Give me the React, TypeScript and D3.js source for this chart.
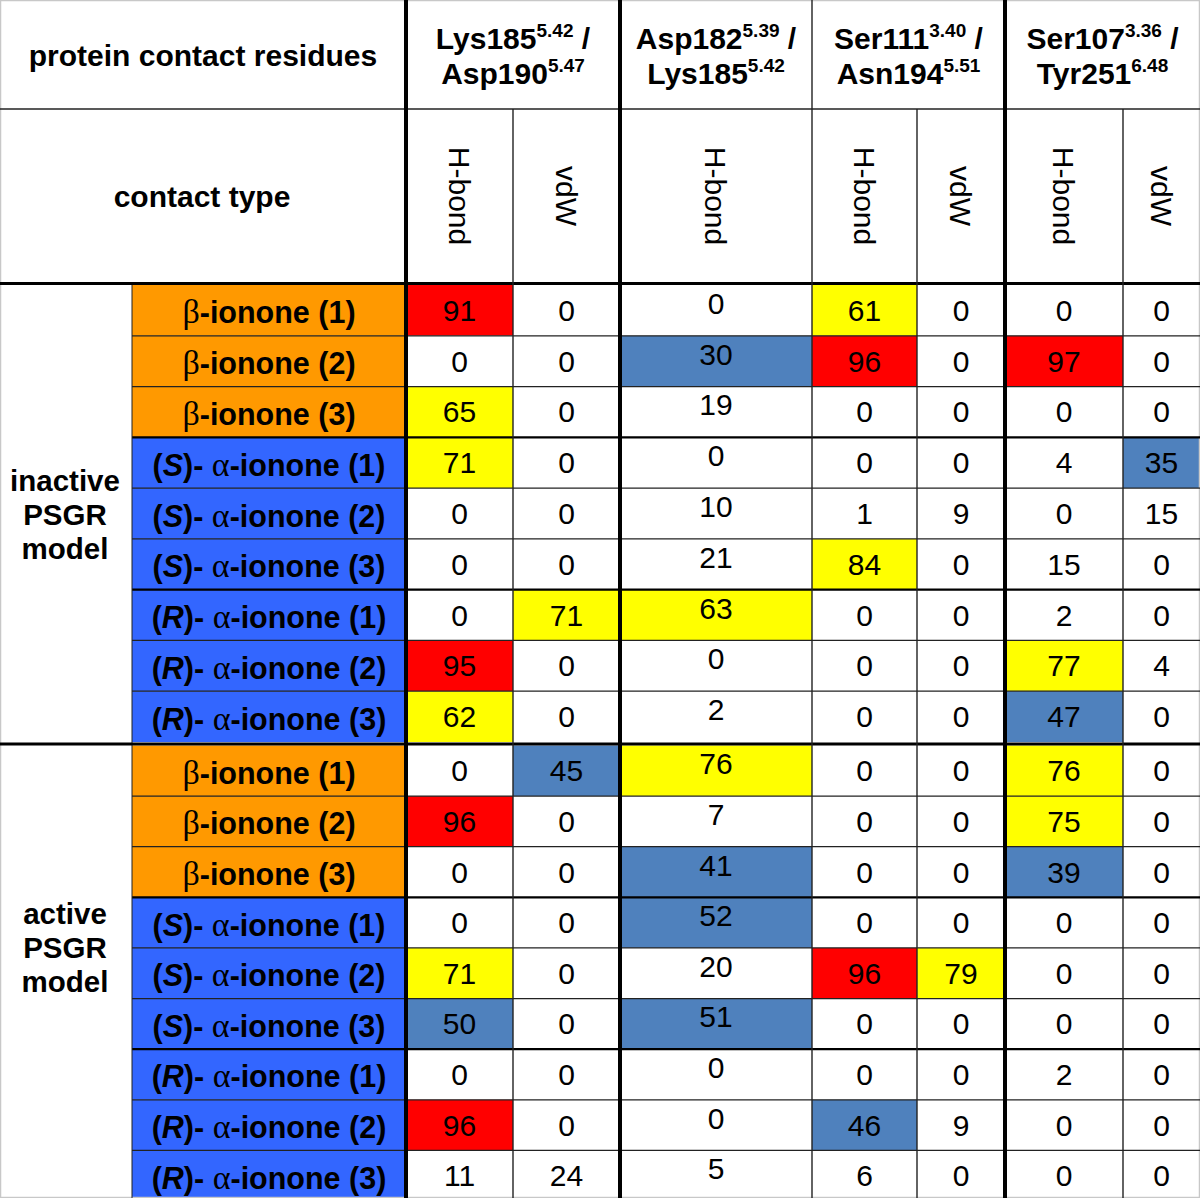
import React from "react";
import * as d3 from "d3";

// ---------- data ----------
const residueA = ["Lys185", "Asp182", "Ser111", "Ser107"];
const residueASup = ["5.42", "5.39", "3.40", "3.36"];
const residueB = ["Asp190", "Lys185", "Asn194", "Tyr251"];
const residueBSup = ["5.47", "5.42", "5.51", "6.48"];
const columnPair = [0, 0, 1, 2, 2, 3, 3];
const columnType = ["H-bond", "vdW", "H-bond", "H-bond", "vdW", "H-bond", "vdW"];
const modelStates = ["inactive", "active"];
const ligands = [
  "β-ionone (1)", "β-ionone (2)", "β-ionone (3)",
  "(S)- α-ionone (1)", "(S)- α-ionone (2)", "(S)- α-ionone (3)",
  "(R)- α-ionone (1)", "(R)- α-ionone (2)", "(R)- α-ionone (3)",
];
const inactiveValues = [
  [91, 0, 0, 61, 0, 0, 0],
  [0, 0, 30, 96, 0, 97, 0],
  [65, 0, 19, 0, 0, 0, 0],
  [71, 0, 0, 0, 0, 4, 35],
  [0, 0, 10, 1, 9, 0, 15],
  [0, 0, 21, 84, 0, 15, 0],
  [0, 71, 63, 0, 0, 2, 0],
  [95, 0, 0, 0, 0, 77, 4],
  [62, 0, 2, 0, 0, 47, 0],
];
const activeValues = [
  [0, 45, 76, 0, 0, 76, 0],
  [96, 0, 7, 0, 0, 75, 0],
  [0, 0, 41, 0, 0, 39, 0],
  [0, 0, 52, 0, 0, 0, 0],
  [71, 0, 20, 96, 79, 0, 0],
  [50, 0, 51, 0, 0, 0, 0],
  [0, 0, 0, 0, 0, 2, 0],
  [96, 0, 0, 46, 9, 0, 0],
  [11, 24, 5, 6, 0, 0, 0],
];
const thresholds = [30, 60, 90];
const thresholdColors = ["#FFFFFF", "#4F81BD", "#FFFF00", "#FF0000"];

// ---------- layout ----------
const W = 1200;
const H = 1198;
const FONT = "'Liberation Sans', Arial, Helvetica, sans-serif";
const SYM = "'Liberation Serif', 'Times New Roman', serif";
const FS = 30;
const colEdges = [406, 513, 620, 812, 917, 1005, 1123, 1200];
const labelX0 = 132;
const header1Bottom = 109;
const headerBottom = 283.5;
const groupRanges: [number, number][] = [
  [285, 742],
  [745.5, 1201],
];
const groupLabelCenters = [514, 947];

const color = d3.scaleThreshold<number, string>().domain(thresholds).range(thresholdColors);
const valuesByGroup = [inactiveValues, activeValues];

function LigandLabel({ text, x, y }: { text: string; x: number; y: number }) {
  const m = text.match(/^\((S|R)\)- α-ionone (\(\d\))$/);
  if (m) {
    return (
      <text x={x} y={y} textAnchor="middle" fontFamily={FONT} fontWeight="bold" fontSize={30.5}>
        <tspan>(</tspan>
        <tspan fontStyle="italic">{m[1]}</tspan>
        <tspan>)- </tspan>
        <tspan fontFamily={SYM} fontWeight="normal" fontSize={34}>α</tspan>
        <tspan>{"-ionone " + m[2]}</tspan>
      </text>
    );
  }
  const rest = text.slice(1);
  return (
    <text x={x} y={y} textAnchor="middle" fontFamily={FONT} fontWeight="bold" fontSize={30.5}>
      <tspan fontFamily={SYM} fontWeight="normal" fontSize={34}>{text[0]}</tspan>
      <tspan>{rest}</tspan>
    </text>
  );
}

export default function App() {
  const xLeft = (c: number) => colEdges[c];
  const xRight = (c: number) => colEdges[c + 1];
  const xMid = (c: number) => (colEdges[c] + colEdges[c + 1]) / 2;
  const yScales = groupRanges.map((r) =>
    d3.scaleBand<number>().domain(d3.range(ligands.length)).range(r).paddingInner(0)
  );

  const pairStart = residueA.map((_, p) => columnPair.indexOf(p));
  const pairEnd = residueA.map((_, p) => columnPair.lastIndexOf(p));

  const thin = "#222";
  return (
    <svg
      width={W}
      height={H}
      viewBox={`0 0 ${W} ${H}`}
      style={{ position: "absolute", left: 0, top: 0, background: "#fff" }}
    >
      <rect x={0} y={0} width={W} height={H} fill="#fff" />

      {/* cells */}
      {valuesByGroup.map((vals, g) =>
        vals.map((row, r) =>
          row.map((v, c) => (
            <rect
              key={`c${g}-${r}-${c}`}
              x={xLeft(c)}
              y={yScales[g](r)!}
              width={xRight(c) - xLeft(c)}
              height={yScales[g].bandwidth()}
              fill={color(v)}
            />
          ))
        )
      )}

      {/* ligand label backgrounds */}
      {groupRanges.map((_, g) =>
        ligands.map((lig, r) => (
          <rect
            key={`lb${g}-${r}`}
            x={labelX0}
            y={yScales[g](r)!}
            width={colEdges[0] - labelX0}
            height={yScales[g].bandwidth()}
            fill={lig.startsWith("β") ? "#FF9900" : "#3366FF"}
          />
        ))
      )}

      {/* outer light border */}
      <rect x={0.5} y={0.5} width={W - 1} height={H - 1} fill="none" stroke="#c8c8c8" strokeWidth={1.5} />

      {/* horizontal lines in data area */}
      {groupRanges.map((_, g) =>
        d3.range(1, ligands.length).map((r) => {
          const y = yScales[g](r)!;
          const major = r % 3 === 0;
          return (
            <line
              key={`h${g}-${r}`}
              x1={labelX0}
              x2={W}
              y1={y}
              y2={y}
              stroke={major ? "#000" : thin}
              strokeWidth={major ? 2.2 : 1.3}
            />
          );
        })
      )}
      <line x1={labelX0} x2={labelX0} y1={285} y2={H} stroke={thin} strokeWidth={1} />

      {/* header lines */}
      <line x1={0} x2={W} y1={header1Bottom} y2={header1Bottom} stroke={thin} strokeWidth={1.5} />
      <line x1={0} x2={W} y1={headerBottom} y2={headerBottom} stroke="#000" strokeWidth={3.2} />
      <line x1={0} x2={W} y1={744} y2={744} stroke="#000" strokeWidth={3.2} />

      {/* vertical lines */}
      {colEdges.slice(1, -1).map((x, i) => {
        const c = i + 1;
        const pairBoundary = columnPair[c] !== columnPair[c - 1];
        const major = pairBoundary && (c === 2 || c === 5);
        return (
          <line
            key={`v${c}`}
            x1={x}
            x2={x}
            y1={pairBoundary ? 0 : header1Bottom}
            y2={H}
            stroke={major ? "#000" : thin}
            strokeWidth={major ? 4 : 1.4}
          />
        );
      })}
      <line x1={colEdges[0]} x2={colEdges[0]} y1={0} y2={H} stroke="#000" strokeWidth={4} />

      {/* header texts */}
      <text x={203} y={66} textAnchor="middle" fontFamily={FONT} fontWeight="bold" fontSize={FS}>
        protein contact residues
      </text>
      <text x={202} y={207} textAnchor="middle" fontFamily={FONT} fontWeight="bold" fontSize={FS}>
        contact type
      </text>

      {residueA.map((a, p) => {
        const cx = (xLeft(pairStart[p]) + xRight(pairEnd[p])) / 2;
        return (
          <g key={`rp${p}`}>
            <text x={cx} y={49} textAnchor="middle" fontFamily={FONT} fontWeight="bold" fontSize={FS}>
              <tspan>{a}</tspan>
              <tspan fontSize={19} dy={-12}>{residueASup[p]}</tspan>
              <tspan dy={12}>{" /"}</tspan>
            </text>
            <text x={cx} y={84} textAnchor="middle" fontFamily={FONT} fontWeight="bold" fontSize={FS}>
              <tspan>{residueB[p]}</tspan>
              <tspan fontSize={19} dy={-12}>{residueBSup[p]}</tspan>
            </text>
          </g>
        );
      })}

      {columnType.map((t, c) => (
        <text
          key={`ct${c}`}
          transform={`translate(${xMid(c)},${196}) rotate(90)`}
          textAnchor="middle"
          dy={11}
          fontFamily={FONT}
          fontSize={FS}
        >
          {t}
        </text>
      ))}

      {/* group labels */}
      {modelStates.map((s, g) => (
        <text
          key={`gl${g}`}
          x={65}
          y={groupLabelCenters[g]}
          textAnchor="middle"
          fontFamily={FONT}
          fontWeight="bold"
          fontSize={29.5}
        >
          <tspan x={65} dy={-34 + 10.5}>{s}</tspan>
          <tspan x={65} dy={34}>PSGR</tspan>
          <tspan x={65} dy={34}>model</tspan>
        </text>
      ))}

      {/* ligand labels */}
      {groupRanges.map((_, g) =>
        ligands.map((lig, r) => (
          <LigandLabel
            key={`ll${g}-${r}`}
            text={lig}
            x={(labelX0 + colEdges[0]) / 2}
            y={yScales[g](r)! + yScales[g].bandwidth() / 2 + 13}
          />
        ))
      )}

      {/* values */}
      {valuesByGroup.map((vals, g) =>
        vals.map((row, r) =>
          row.map((v, c) => (
            <text
              key={`t${g}-${r}-${c}`}
              x={xMid(c)}
              y={yScales[g](r)! + yScales[g].bandwidth() / 2 + 10.5 - (c === 2 ? 7 : 0)}
              textAnchor="middle"
              fontFamily={FONT}
              fontSize={FS}
            >
              {v}
            </text>
          ))
        )
      )}
    </svg>
  );
}
